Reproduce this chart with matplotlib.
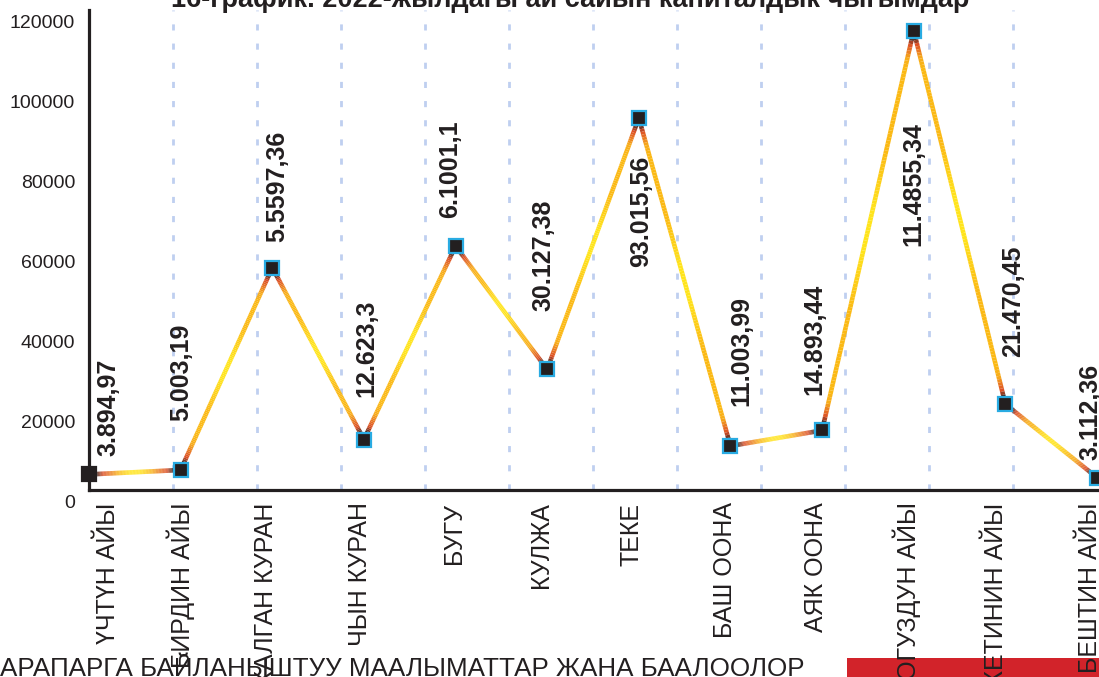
import numpy as np
import matplotlib
matplotlib.use("Agg")
import matplotlib.pyplot as plt
import matplotlib.transforms as mtrans
from matplotlib.collections import LineCollection
from matplotlib.patches import Rectangle
from matplotlib.colors import to_rgb

# chart data
months = ["ҮЧТҮН АЙЫ", "БИРДИН АЙЫ", "ЖАЛГАН КУРАН", "ЧЫН КУРАН", "БУГУ", "КУЛЖА",
          "ТЕКЕ", "БАШ ООНА", "АЯК ООНА", "ТОГУЗДУН АЙЫ", "ЖЕТИНИН АЙЫ", "БЕШТИН АЙЫ"]
values = [3894.97, 5003.19, 55597.36, 12623.3, 61001.1, 30127.38,
          93015.56, 11003.99, 14893.44, 114855.34, 21470.45, 3112.36]
value_labels = ["3.894,97", "5.003,19", "5.5597,36", "12.623,3", "6.1001,1", "30.127,38",
                "93.015,56", "11.003,99", "14.893,44", "11.4855,34", "21.470,45", "3.112,36"]
yticks = [0, 20000, 40000, 60000, 80000, 100000, 120000]

title = "16-график. 2022-жылдагы ай сайын капиталдык чыгымдар"
footer = "АРАПАРГА БАЙЛАНЫШТУУ МААЛЫМАТТАР ЖАНА БААЛООЛОР"

# label placement (pixels): dx, dy, vertical alignment
label_pos = [(19, 18, "bottom"), (1, 49, "bottom"), (5, 26, "bottom"), (2, 43, "bottom"),
             (-5, 28, "bottom"), (-4, 58, "bottom"), (2, -38, "top"), (11, 40, "bottom"),
             (-8, 35, "bottom"), (0, -92, "top"), (8, 47, "bottom"), (-7, 18, "bottom")]
month_dx = [19, 0, -6, -4, -2, -6, -7, -5, -6, -7, -9, -7]

DARK = "#231f20"
BLUE = "#29abe2"
FONT = ["Liberation Sans Narrow", "Liberation Sans", "DejaVu Sans"]

W, H = 1099, 677
fig = plt.figure(figsize=(W / 100, H / 100), dpi=100)
ax = fig.add_axes([89 / W, (H - 490) / H, 1010 / W, 480 / H])
ax.set_facecolor("none")

x = np.arange(len(values))
ax.set_xlim(0, 11 * 1010 / 1008)
ax.set_ylim(0, 120000)

# gradient line, colour depends on distance (px) to segment ends
orange = np.array(to_rgb("#f08c28"))
gold = np.array(to_rgb("#fbb914"))
yellow = np.array(to_rgb("#ffe41c"))
red = np.array(to_rgb("#dc4f26"))
dark = np.array(to_rgb("#2e2420"))

def seg_color(d_end, half):
    # body: orange near the ends, gold along, yellow around the middle
    if d_end < 40:
        base = orange + (gold - orange) * (d_end / 40)
    else:
        base = gold
    mid = d_end / max(half, 1)
    if mid > 0.6:
        base = base + (yellow - base) * min((mid - 0.6) / 0.3, 1)
    if d_end < 7:
        return dark
    if d_end < 14:
        return dark + (red - dark) * ((d_end - 7) / 7)
    if d_end < 28:
        return red + (base - red) * ((d_end - 14) / 14)
    return base

pix = ax.transData.transform(np.column_stack([x, values]))
segs, cols = [], []
n = 120
for i in range(len(values) - 1):
    seg_len = np.hypot(*(pix[i + 1] - pix[i]))
    ts = np.linspace(0, 1, n + 1)
    for a, b in zip(ts[:-1], ts[1:]):
        xa = x[i] + (x[i + 1] - x[i]) * a
        xb = x[i] + (x[i + 1] - x[i]) * b
        ya = values[i] + (values[i + 1] - values[i]) * a
        yb = values[i] + (values[i + 1] - values[i]) * b
        tm = (a + b) / 2
        d_end = min(tm, 1 - tm) * seg_len
        segs.append([(xa, ya), (xb, yb)])
        cols.append(seg_color(d_end, seg_len / 2))
lc = LineCollection(segs, colors=cols, linewidths=3.3, capstyle="butt", zorder=3)
lc.set_clip_on(False)
ax.add_collection(lc)

ax.plot(x[1:], values[1:], "s", ms=10, mfc=DARK, mec=BLUE, mew=1.6, zorder=4, clip_on=False)
ax.plot(x[:1], values[:1], "s", ms=10.5, mfc=DARK, mec=DARK, mew=1.6, zorder=4, clip_on=False)

for xi, v, txt, (dx, dy, va) in zip(x, values, value_labels, label_pos):
    ax.annotate(txt, (xi, v), xytext=(dx, dy), textcoords="offset pixels",
                rotation=90, ha="center", va=va, fontsize=18, fontweight="bold",
                family=FONT, color=DARK, zorder=5, annotation_clip=False)

# axes styling
for s in ["top", "right"]:
    ax.spines[s].set_visible(False)
for s in ["left", "bottom"]:
    ax.spines[s].set_linewidth(2.3)
    ax.spines[s].set_color(DARK)

ax.set_yticks(yticks, [str(t) for t in yticks])
ax.tick_params(axis="y", length=0, pad=10, labelsize=14, labelcolor=DARK)
for lab in ax.get_yticklabels():
    lab.set_family(FONT)
    lab.set_transform(lab.get_transform() + mtrans.ScaledTranslation(0, -0.12, fig.dpi_scale_trans))

ax.set_xticks(x, months, rotation=90, va="top")
ax.tick_params(axis="x", length=0, pad=9, labelsize=18, labelcolor=DARK)
for lab, dx in zip(ax.get_xticklabels(), month_dx):
    lab.set_family(FONT)
    lab.set_transform(lab.get_transform() + mtrans.ScaledTranslation(dx / 100, 0, fig.dpi_scale_trans))

ax.set_xticks(np.arange(1, 13) * 11 / 12, minor=True)
ax.tick_params(axis="x", which="minor", length=0)
ax.grid(True, which="minor", axis="x", color="#bfcff0", lw=2.0, linestyle=(0, (2.2, 4.7)))
ax.grid(False, which="major")

# page furniture
fig.patches.append(Rectangle((847 / W, 0), 1, 19 / H, transform=fig.transFigure,
                             facecolor="#d2232a", edgecolor="none", zorder=-1))
fig.text(570 / W, 1 - 7 / H, title, ha="center", va="baseline", fontsize=19.5,
         fontweight="bold", family=FONT, color=DARK)
fig.text(0, 1 / H, footer, ha="left", va="baseline", fontsize=18.7,
         family=FONT, color=DARK)

fig.savefig("out.png", dpi=100)
